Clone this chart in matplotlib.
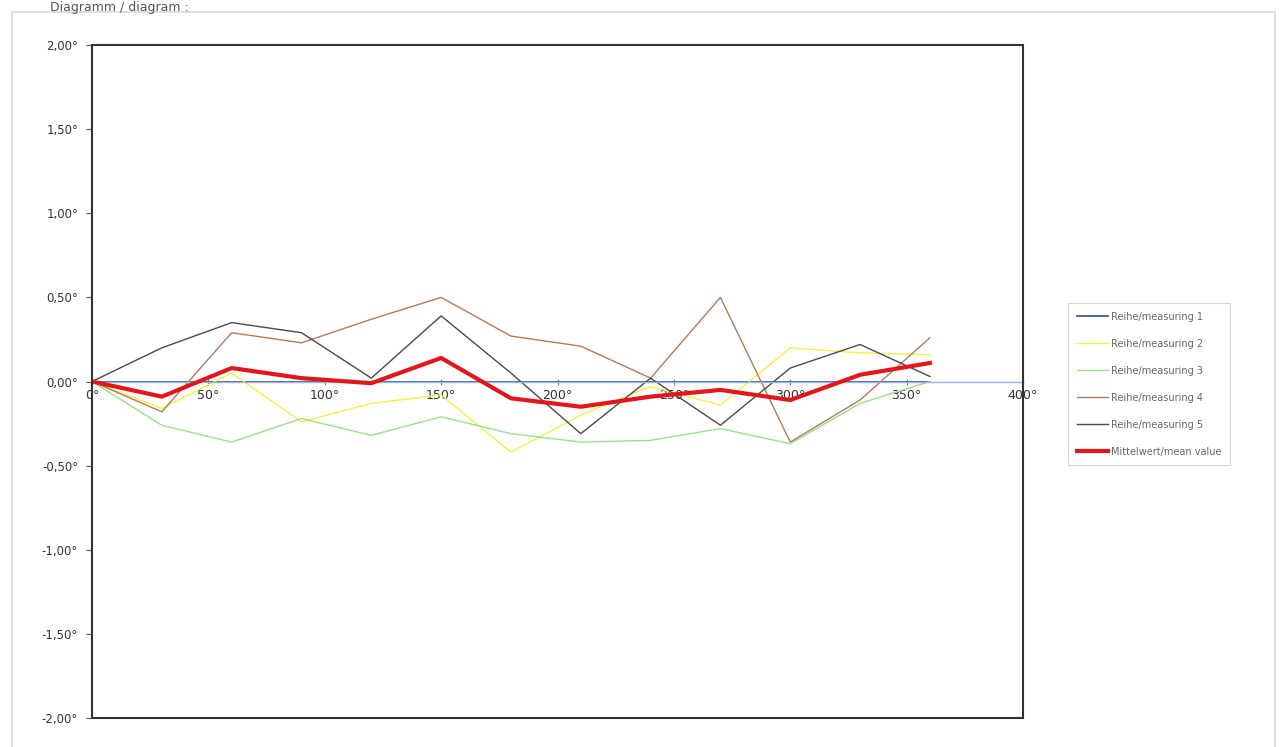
import matplotlib
matplotlib.use("Agg")
import matplotlib.pyplot as plt
from matplotlib.patches import Rectangle

# angles (deg) and deviations (deg)
angles = [0, 30, 60, 90, 120, 150, 180, 210, 240, 270, 300, 330, 360]
series1 = [0, 0, 0, 0, 0, 0, 0, 0, 0, 0, 0, 0, 0]
series2 = [0, -0.16, 0.05, -0.24, -0.13, -0.08, -0.42, -0.20, -0.03, -0.14, 0.20, 0.17, 0.16]
series3 = [0, -0.26, -0.36, -0.22, -0.32, -0.21, -0.31, -0.36, -0.35, -0.28, -0.37, -0.13, 0.0]
series4 = [0, -0.18, 0.29, 0.23, 0.37, 0.50, 0.27, 0.21, 0.02, 0.50, -0.36, -0.11, 0.26]
series5 = [0, 0.20, 0.35, 0.29, 0.02, 0.39, 0.05, -0.31, 0.02, -0.26, 0.08, 0.22, 0.03]
mean_vals = [0, -0.09, 0.08, 0.02, -0.01, 0.14, -0.10, -0.15, -0.09, -0.05, -0.11, 0.04, 0.11]

labels = ["Reihe/measuring 1", "Reihe/measuring 2", "Reihe/measuring 3",
          "Reihe/measuring 4", "Reihe/measuring 5", "Mittelwert/mean value"]
colors = ["#2a4a9a", "#f2ef4a", "#98e08a", "#b27a5e", "#4a4a4a", "#e3161c"]
widths = [1.2, 1.0, 1.0, 1.0, 1.0, 3.0]

x_ticks = [0, 50, 100, 150, 200, 250, 300, 350, 400]
y_ticks = [-2.0, -1.5, -1.0, -0.5, 0.0, 0.5, 1.0, 1.5, 2.0]

fig = plt.figure(figsize=(12.84, 7.47), dpi=100)

# outer chart frame
fig.patches.append(Rectangle((12 / 1284, -0.05), 1263 / 1284, 1.0 - 12 / 747 + 0.05,
                             transform=fig.transFigure, fill=False,
                             edgecolor="#d8d8d8", linewidth=1.2))
fig.text(50 / 1284, 1 - 7 / 747, "Diagramm / diagram :", fontsize=9, color="#555555",
         ha="left", va="center")

ax = fig.add_axes([92 / 1284, 1 - 718 / 747, (1023 - 92) / 1284, (718 - 45) / 747])

all_series = [series1, series2, series3, series4, series5, mean_vals]
for vals, lab, c, w in zip(all_series, labels, colors, widths):
    ax.plot(angles, vals, color=c, linewidth=w, label=lab, zorder=3 if w > 2 else 2)

ax.set_xlim(0, 400)
ax.set_ylim(-2, 2)

# plot area border
ax.add_patch(Rectangle((0, 0), 1, 1, transform=ax.transAxes, fill=False,
                       edgecolor="#333333", linewidth=1.5, zorder=5, clip_on=False))
for s in ["top", "right", "left"]:
    ax.spines[s].set_visible(False)
ax.spines["bottom"].set_position(("data", 0))
ax.spines["bottom"].set_color("#9ab4d8")
ax.spines["bottom"].set_linewidth(1.0)

ax.set_xticks(x_ticks)
ax.set_xticklabels([f"{t}°" for t in x_ticks], fontsize=9, color="#333333")
ax.set_yticks(y_ticks)
ax.set_yticklabels([f"{t:.2f}°".replace(".", ",") for t in y_ticks], fontsize=8.5, color="#333333")
ax.tick_params(axis="x", direction="inout", length=5, color="#777777", pad=3)
ax.tick_params(axis="y", direction="out", length=4, color="#555555", pad=6)

leg = fig.legend(loc="upper left", bbox_to_anchor=(1063 / 1284, 1 - 298 / 747),
                 fontsize=7, frameon=True, fancybox=False, edgecolor="#cccccc",
                 labelcolor="#666666", handlelength=3.2, handletextpad=0.3,
                 labelspacing=1.75, borderpad=0.9)
leg.get_frame().set_linewidth(0.8)

fig.savefig("out.png", dpi=100)
